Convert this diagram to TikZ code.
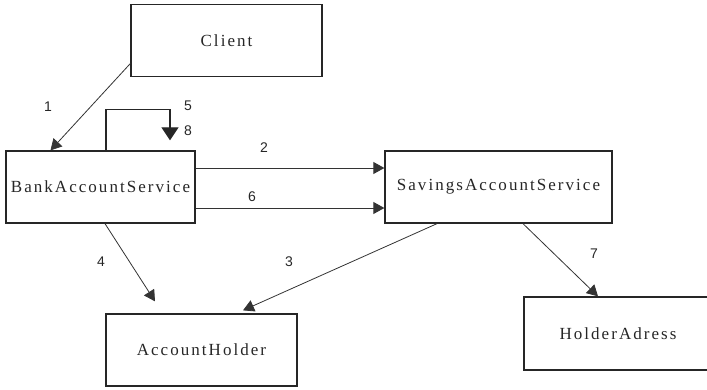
\documentclass[tikz,border=0pt]{standalone}
\usepackage{fontspec}
\setmainfont{Liberation Serif}
\newfontfamily\boxfont[LetterSpace=12]{Liberation Serif}
\newfontfamily\numfont{Liberation Sans}
\usetikzlibrary{arrows.meta}

\tikzset{
  classbox/.style={draw=black!85, line width=1.3pt, rectangle, minimum height=72pt,
    inner sep=0pt, font=\boxfont\fontsize{17}{20}\selectfont, text=black!85},
  link/.style={draw=black!80, line width=0.8pt, -{Triangle[length=11pt,width=12pt]}},
  looplink/.style={draw=black!85, line width=1.1pt, -{Triangle[length=13pt,width=17pt]}},
  msg/.style={font=\numfont\fontsize{14}{16}\selectfont, text=black!85, inner sep=0pt}
}

\begin{document}
\begin{tikzpicture}[x=1pt, y=-1pt]
  \useasboundingbox (0,0) rectangle (707,389);

  % classes
  \node[classbox, minimum width=191pt] (client) at (226.5,40.5) {Client};
  \node[classbox, minimum width=189pt] (bas) at (100.5,187) {BankAccountService};
  \node[classbox, minimum width=227pt] (sas) at (498.5,187) {SavingsAccountService};
  \node[classbox, minimum width=191pt] (holder) at (201.5,350) {AccountHolder};
  \node[classbox, minimum width=188pt, minimum height=73pt] (address) at (618,333.5) {HolderAdress};

  % calls
  \draw[link] ([yshift=-23pt]client.west) -- ([xshift=-50pt]bas.north);
  \draw[looplink] ([xshift=5.5pt]bas.north) -- ++(0,-41) -| ([xshift=69.5pt,yshift=10pt]bas.north);
  \draw[link] ([yshift=19pt]bas.east) -- ([yshift=19pt]sas.west);
  \draw[link] ([yshift=-21pt]bas.east) -- ([yshift=-21pt]sas.west);
  \draw[link] ([xshift=-61.5pt]sas.south) -- ([xshift=41.5pt,yshift=3pt]holder.north);
  \draw[link] ([xshift=4.5pt]bas.south) -- ([xshift=-46.5pt,yshift=12pt]holder.north);
  \draw[link] ([xshift=24.5pt]sas.south) -- ([xshift=-20pt]address.north);

  % sequence numbers
  \node[msg] (n1) at (48,107) {1};
  \node[msg] (n5) at (188,106) {5};
  \node[msg] (n8) at (188,131) {8};
  \node[msg] (n2) at (264,148) {2};
  \node[msg] (n6) at (252,197) {6};
  \node[msg] (n4) at (101,262) {4};
  \node[msg] (n3) at (289,262) {3};
  \node[msg] (n7) at (594,254) {7};
\end{tikzpicture}
\end{document}
